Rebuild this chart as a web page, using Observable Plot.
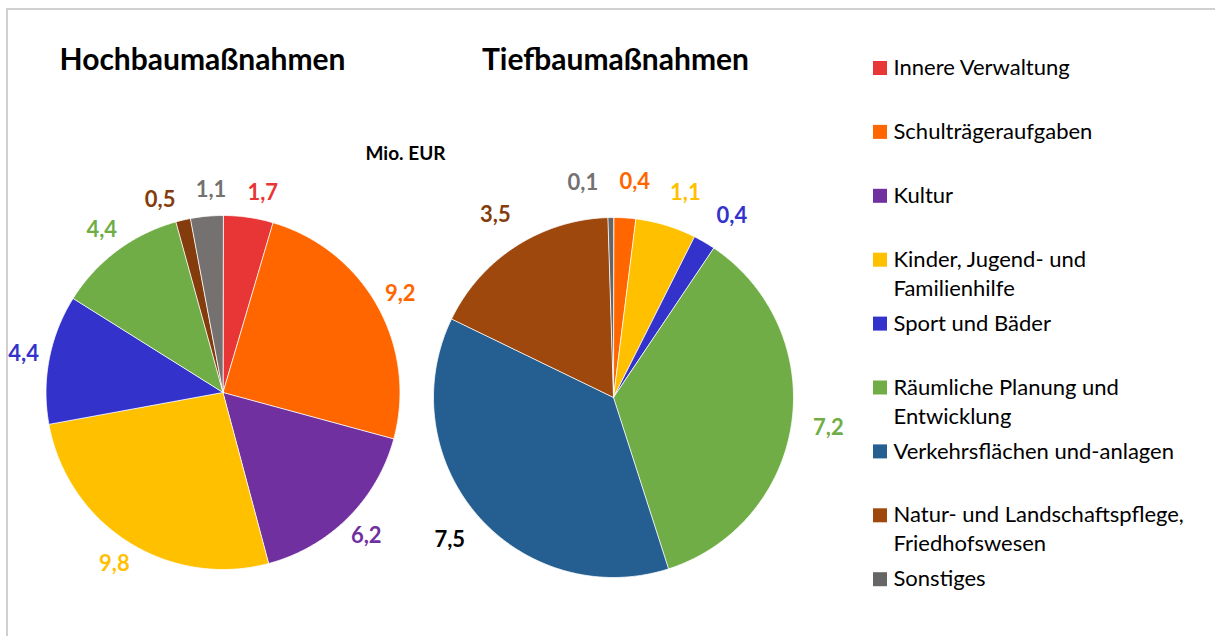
<!DOCTYPE html>
<html>
<head>
<meta charset="utf-8">
<script src="https://cdn.jsdelivr.net/npm/d3@7"></script>
<script src="https://cdn.jsdelivr.net/npm/@observablehq/plot@0.6"></script>
<style>
  html, body { margin: 0; padding: 0; background: #ffffff; }
  #chart svg { display: block; }
</style>
</head>
<body>
<div id="chart"></div>
<script>
// ---- Data ----
const categories = [
  "Innere Verwaltung",
  "Schulträgeraufgaben",
  "Kultur",
  "Kinder, Jugend- und\nFamilienhilfe",
  "Sport und Bäder",
  "Räumliche Planung und\nEntwicklung",
  "Verkehrsflächen und-anlagen",
  "Natur- und Landschaftspflege,\nFriedhofswesen",
  "Sonstiges"
];
const hochbauValues = [1.7, 9.2, 6.2, 9.8, 4.4, 4.4, 0, 0.5, 1.1];
const tiefbauValues = [0, 0.4, 0, 1.1, 0.4, 7.2, 7.5, 3.5, 0.1];
const legendColors = ["#E83535", "#FF6600", "#7030A0", "#FFC000", "#3333CC", "#70AD47", "#255E91", "#9E480E", "#666666"];
const hochbauColors = ["#E83535", "#FF6600", "#7030A0", "#FFC000", "#3333CC", "#70AD47", "#255E91", "#843C0C", "#767171"];
const tiefbauColors = ["#E83535", "#FF6600", "#7030A0", "#FFC000", "#3333CC", "#70AD47", "#255E91", "#9E480E", "#666666"];
const hochbauLabelColors = ["#E83535", "#FF6600", "#7030A0", "#FFC000", "#3333CC", "#70AD47", "#255E91", "#843C0C", "#767171"];
const tiefbauLabelColors = ["#E83535", "#FF6600", "#7030A0", "#FFC000", "#3333CC", "#70AD47", "#000000", "#843C0C", "#767171"];
const titles = ["Hochbaumaßnahmen", "Tiefbaumaßnahmen"];
const unitLabel = "Mio. EUR";

// ---- Layout ----
const W = 1215, H = 636;
const pies = [
  {title: titles[0], values: hochbauValues, colors: hochbauColors, labelColors: hochbauLabelColors, cx: 222.5, cy: 392, r: 177, labelOffset: 26, titleX: 202, titleY: 60},
  {title: titles[1], values: tiefbauValues, colors: tiefbauColors, labelColors: tiefbauLabelColors, cx: 613, cy: 397, r: 180, labelOffset: 37, titleX: 615, titleY: 60}
];
const font = "Lato, 'Open Sans', sans-serif";
const minLabelGap = 52; // px between neighbouring label centres

const slicePoints = [];
const valueLabels = [];
pies.forEach((p, pi) => {
  const rows = categories.map((c, i) => ({cat: c, value: p.values[i], i}));
  const arcs = d3.pie().sort(null).value(d => d.value)(rows);
  const labs = [];
  arcs.forEach(a => {
    if (a.data.value <= 0) return;
    const key = pi + "-" + a.data.i;
    const color = p.colors[a.data.i];
    slicePoints.push({key, x: p.cx, y: p.cy, color});
    const n = Math.max(2, Math.ceil((a.endAngle - a.startAngle) / 0.01));
    for (let k = 0; k <= n; k++) {
      const t = a.startAngle + (a.endAngle - a.startAngle) * k / n;
      slicePoints.push({key, x: p.cx + p.r * Math.sin(t), y: p.cy - p.r * Math.cos(t), color});
    }
    labs.push({
      angle: (a.startAngle + a.endAngle) / 2,
      text: a.data.value.toFixed(1).replace(".", ","),
      color: p.labelColors[a.data.i]
    });
  });
  // spread out crowded labels (angles wrap around the circle)
  const d = p.r + p.labelOffset;
  const minA = minLabelGap / d;
  labs.forEach(l => { if (l.angle > Math.PI * 1.5) l.angle -= 2 * Math.PI; });
  labs.sort((a, b) => a.angle - b.angle);
  for (let iter = 0; iter < 200; iter++) {
    let moved = false;
    for (let k = 0; k < labs.length - 1; k++) {
      const gap = labs[k + 1].angle - labs[k].angle;
      if (gap < minA - 1e-6) {
        const push = (minA - gap) / 2;
        labs[k].angle -= push;
        labs[k + 1].angle += push;
        moved = true;
      }
    }
    if (!moved) break;
  }
  labs.forEach(l => valueLabels.push({
    x: p.cx + d * Math.sin(l.angle),
    y: p.cy - d * Math.cos(l.angle),
    text: l.text,
    color: l.color
  }));
});

const legendRows = categories.map((c, i) => ({cat: c, color: legendColors[i], y: 68 + i * 63.9}));

const chart = Plot.plot({
  width: W,
  height: H,
  margin: 0,
  x: {domain: [0, W], range: [0, W], axis: null},
  y: {domain: [0, H], range: [0, H], axis: null},
  color: {type: "identity"},
  style: {fontFamily: font, background: "#ffffff"},
  marks: [
    Plot.ruleY([8.5], {x1: 6, x2: W, stroke: "#d0d0d0", strokeWidth: 2}),
    Plot.ruleX([6.5], {y1: 8, y2: H, stroke: "#d0d0d0", strokeWidth: 2}),
    Plot.line(slicePoints, {x: "x", y: "y", z: "key", fill: "color", stroke: "#ffffff", strokeWidth: 0.8, curve: "linear-closed"}),
    Plot.text(valueLabels, {x: "x", y: "y", text: "text", fill: "color", fontSize: 22, fontWeight: "bold"}),
    Plot.text(pies, {x: "titleX", y: "titleY", text: "title", fontSize: 30, fontWeight: "bold", fill: "#000000"}),
    Plot.text([unitLabel], {x: () => 405, y: () => 153, text: d => d, fontSize: 19, fontWeight: "bold", fill: "#000000"}),
    Plot.rect(legendRows, {x1: () => 873, x2: () => 887, y1: d => d.y - 7, y2: d => d.y + 7, fill: "color"}),
    Plot.text(legendRows, {x: () => 893, y: d => d.y - 14, text: "cat", textAnchor: "start", lineAnchor: "top", lineHeight: 1.32, fontSize: 22, fill: "#000000"})
  ]
});
document.getElementById("chart").appendChild(chart);
</script>
</body>
</html>
